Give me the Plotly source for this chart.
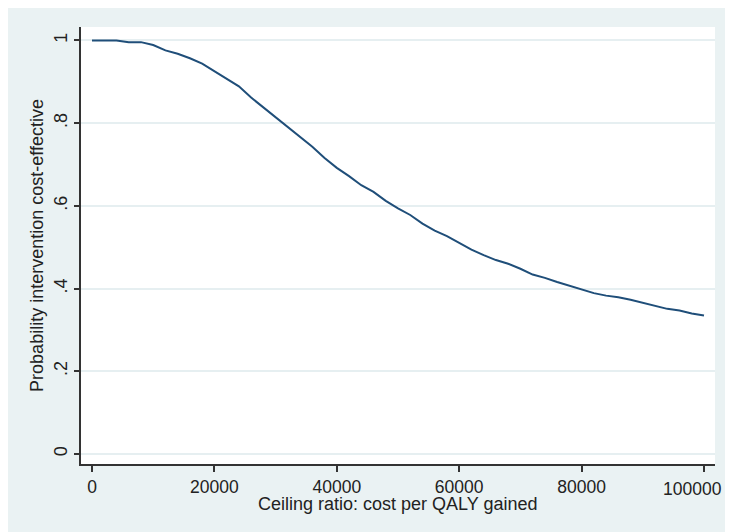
import plotly.graph_objects as go

# Ceiling ratio (cost per QALY gained) and probability intervention is cost-effective
ceiling = [0, 2000, 4000, 6000, 8000, 10000, 12000, 14000, 16000, 18000,
           20000, 22000, 24000, 26000, 28000, 30000, 32000, 34000, 36000, 38000,
           40000, 42000, 44000, 46000, 48000, 50000, 52000, 54000, 56000, 58000,
           60000, 62000, 64000, 66000, 68000, 70000, 72000, 74000, 76000, 78000,
           80000, 82000, 84000, 86000, 88000, 90000, 92000, 94000, 96000, 98000,
           100000]
prob = [1.000, 1.000, 1.000, 0.996, 0.996, 0.989, 0.976, 0.968, 0.957, 0.944,
        0.926, 0.906, 0.889, 0.862, 0.838, 0.814, 0.790, 0.768, 0.743, 0.716,
        0.692, 0.672, 0.650, 0.634, 0.612, 0.594, 0.578, 0.557, 0.540, 0.527,
        0.510, 0.494, 0.481, 0.469, 0.460, 0.448, 0.434, 0.426, 0.416, 0.407,
        0.397, 0.389, 0.383, 0.379, 0.373, 0.366, 0.358, 0.351, 0.347, 0.340,
        0.335]

x_ticks = [0, 20000, 40000, 60000, 80000, 100000]
x_tick_labels = ["0", "20000", "40000", "60000", "80000", "100000"]
y_ticks = [0, 0.2, 0.4, 0.6, 0.8, 1]
y_tick_labels = ["0", ".2", ".4", ".6", ".8", "1"]

FONT = "Liberation Sans, Arial, sans-serif"
BG = "#EAF2F3"
TXT = "#222"

fig = go.Figure()
fig.add_trace(go.Scatter(
    x=ceiling, y=prob, mode="lines",
    line=dict(color="#1f4e79", width=2),
    showlegend=False, hoverinfo="skip",
))

# page has an 8px body margin; figure sits at (8, 8)
W, H = 725, 524
L, R, T, B = 73, 18, 19, 68

fig.add_annotation(
    text="Ceiling ratio: cost per QALY gained",
    xref="paper", yref="paper", x=0.5, y=0, yshift=-40,
    xanchor="center", yanchor="middle", showarrow=False,
    font=dict(size=18, family=FONT, color=TXT),
)

# last x tick label drawn right-aligned so it stays inside the visible page
shown_ticktext = x_tick_labels[:-1] + [""]
fig.add_annotation(
    text=x_tick_labels[-1],
    xref="x", yref="paper", x=x_ticks[-1], y=0, yshift=-25, xshift=20,
    xanchor="right", yanchor="middle", showarrow=False,
    font=dict(size=17.5, family=FONT, color=TXT),
)

fig.update_layout(
    width=W, height=H,
    margin=dict(l=L, r=R, t=T, b=B, autoexpand=False),
    paper_bgcolor=BG, plot_bgcolor="white",
    font=dict(family=FONT, size=18, color=TXT),
    xaxis=dict(
        range=[-1797, 101797], automargin=False,
        tickvals=x_ticks, ticktext=shown_ticktext,
        ticklabeloverflow="allow",
        showgrid=False, zeroline=False,
        showline=True, linecolor="#333", linewidth=2,
        ticks="outside", ticklen=6, tickwidth=1.5, tickcolor="#333",
        tickfont=dict(size=17.5, family=FONT, color=TXT),
    ),
    yaxis=dict(
        range=[-0.0242, 1.0326], automargin=False,
        tickvals=y_ticks, ticktext=y_tick_labels, tickangle=-90,
        showgrid=True, gridcolor="#E6EFF1", gridwidth=2,
        zeroline=False,
        showline=True, linecolor="#333", linewidth=2,
        ticks="outside", ticklen=5, tickwidth=1.5, tickcolor="#333",
        tickfont=dict(size=18, family=FONT, color=TXT),
        title=dict(text="Probability intervention cost-effective",
                   font=dict(size=18, family=FONT, color=TXT), standoff=2),
    ),
)

fig.write_html("out.html")
